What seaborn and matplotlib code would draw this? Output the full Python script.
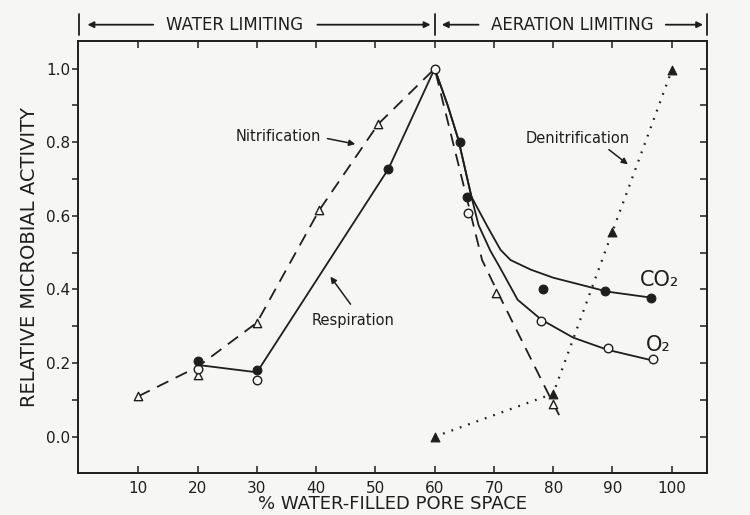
import numpy as np
import matplotlib
matplotlib.use("Agg")
import matplotlib.pyplot as plt
import seaborn as sns

# values
# nitrification (open triangles, dashed)
nitr_x = [10, 20, 30, 40.5, 50.5, 70.4, 80]
nitr_y = [0.11, 0.168, 0.31, 0.615, 0.85, 0.39, 0.09]
nitr_line_x = [10, 20, 30, 40.5, 50.5, 60, 64, 68, 70.4, 80, 81.6]
nitr_line_y = [0.11, 0.19, 0.31, 0.615, 0.85, 1.0, 0.74, 0.48, 0.40, 0.09, 0.04]

# respiration (solid line, water limiting side)
resp_line_x = [20, 30, 52.2, 60]
resp_line_y = [0.195, 0.175, 0.728, 1.0]

# filled circles (CO2) and open circles (O2)
co2_x = [20, 30, 52.2, 64.2, 65.4, 78.2, 88.7, 96.5]
co2_y = [0.207, 0.18, 0.728, 0.80, 0.652, 0.40, 0.395, 0.377]
o2_x = [20, 30, 60, 65.6, 78, 89.2, 96.8]
o2_y = [0.185, 0.155, 1.0, 0.608, 0.315, 0.24, 0.21]

# hand drawn curves on the aeration limiting side
co2_curve_x = [60, 62.2, 64, 66.2, 68.9, 71.1, 72.8, 76.2, 80, 83.4, 89.2, 96.5]
co2_curve_y = [1.0, 0.9, 0.807, 0.652, 0.571, 0.508, 0.48, 0.454, 0.432, 0.418, 0.394, 0.378]
o2_curve_x = [60, 62.2, 64, 66.2, 67.4, 69.4, 71, 74, 78, 83.4, 89.2, 96.8]
o2_curve_y = [1.0, 0.9, 0.807, 0.652, 0.575, 0.505, 0.46, 0.372, 0.318, 0.269, 0.236, 0.207]

# denitrification (filled triangles, dotted)
denit_x = [60, 80, 90, 100]
denit_y = [0.0, 0.117, 0.557, 0.995]

x_ticks = [10, 20, 30, 40, 50, 60, 70, 80, 90, 100]
y_ticks = [0.0, 0.2, 0.4, 0.6, 0.8, 1.0]

ink = "#1e1e1e"
paper = "#f6f6f4"

sns.set_theme(style="white")
plt.rcParams["font.family"] = ["DejaVu Sans"]

fig = plt.figure(figsize=(7.5, 5.15), dpi=100, facecolor=paper)
ax = fig.add_axes([0.104, 0.082, 0.839, 0.839])
ax.set_facecolor(paper)

lw = 1.3
# lines
sns.lineplot(x=nitr_line_x, y=nitr_line_y, ax=ax, color=ink, lw=lw, sort=False,
             estimator=None, linestyle=(0, (7, 4.5)))
sns.lineplot(x=resp_line_x, y=resp_line_y, ax=ax, color=ink, lw=lw, sort=False, estimator=None)
sns.lineplot(x=co2_curve_x, y=co2_curve_y, ax=ax, color=ink, lw=lw, sort=False, estimator=None)
sns.lineplot(x=o2_curve_x, y=o2_curve_y, ax=ax, color=ink, lw=lw, sort=False, estimator=None)
sns.lineplot(x=denit_x, y=denit_y, ax=ax, color=ink, lw=1.6, sort=False, estimator=None,
             linestyle=(0, (0.8, 3.2)))

# markers
sns.scatterplot(x=nitr_x, y=nitr_y, ax=ax, marker="^", s=36, facecolor=paper,
                edgecolor=ink, linewidth=1.0, zorder=5)
sns.scatterplot(x=o2_x, y=o2_y, ax=ax, marker="o", s=38, facecolor=paper,
                edgecolor=ink, linewidth=1.0, zorder=5)
sns.scatterplot(x=co2_x, y=co2_y, ax=ax, marker="o", s=40, color=ink,
                edgecolor=ink, linewidth=0.8, zorder=6)
sns.scatterplot(x=denit_x, y=denit_y, ax=ax, marker="^", s=40, color=ink,
                edgecolor=ink, linewidth=0.8, zorder=6)

ax.set_xlim(-0.2, 106)
ax.set_ylim(-0.098, 1.076)

# axes and ticks
for sp in ax.spines.values():
    sp.set_visible(True)
    sp.set_color(ink)
    sp.set_linewidth(1.4)

ax.set_xticks(x_ticks)
ax.set_xticklabels([str(t) for t in x_ticks])
ax.tick_params(axis="x", direction="in", top=True, bottom=True, length=5, width=1.1,
               colors=ink, labelsize=11, pad=6)
ax.set_yticks(y_ticks)
ax.set_yticklabels([f"{t:.1f}" for t in y_ticks])
ax.set_yticks([0.1, 0.3, 0.5, 0.7, 0.9], minor=True)
ax.tick_params(axis="y", which="both", direction="out", left=True, right=False,
               length=4, width=1.1, colors=ink, labelsize=11, pad=1.5)

ax_r = ax.twinx()
ax_r.set_ylim(ax.get_ylim())
ax_r.set_yticks(np.arange(0, 1.01, 0.1))
ax_r.tick_params(axis="y", direction="in", length=5, width=1.1, colors=ink,
                 labelright=False)
for sp in ax_r.spines.values():
    sp.set_visible(False)

ax.set_xlabel("% WATER-FILLED PORE SPACE", fontsize=13, color=ink, labelpad=0)
ax.xaxis.set_label_coords(0.5, -0.052)
ax.set_ylabel("RELATIVE MICROBIAL ACTIVITY", fontsize=14, color=ink)
ax.yaxis.set_label_coords(-0.062, 0.5)

# text labels inside the plot
arrow = dict(arrowstyle="-|>", color=ink, lw=1.1, mutation_scale=9, shrinkA=0, shrinkB=0)
ax.text(33.6, 0.815, "Nitrification", fontsize=10.5, color=ink, ha="center", va="center")
ax.annotate("", xy=(46.6, 0.795), xytext=(41.9, 0.81), arrowprops=arrow)
ax.text(46.3, 0.315, "Respiration", fontsize=10.5, color=ink, ha="center", va="center")
ax.annotate("", xy=(42.4, 0.435), xytext=(45.8, 0.36), arrowprops=arrow)
ax.text(84.1, 0.81, "Denitrification", fontsize=10.5, color=ink, ha="center", va="center")
ax.annotate("", xy=(92.6, 0.74), xytext=(89.4, 0.78), arrowprops=arrow)
ax.text(94.6, 0.425, "CO₂", fontsize=15, color=ink, ha="left", va="center")
ax.text(95.6, 0.25, "O₂", fontsize=15, color=ink, ha="left", va="center")

# header above the plot
hy = 1.037
trans = ax.get_xaxis_transform()
for xb in [0, 60, 106]:
    ax.plot([xb, xb], [1.013, 1.062], transform=trans, color=ink, lw=1.3, clip_on=False)
head = dict(arrowstyle="-|>", color=ink, lw=1.3, mutation_scale=9, shrinkA=0, shrinkB=0)
ax.annotate("", xy=(1.4, hy), xytext=(12.5, hy), xycoords=trans, textcoords=trans, arrowprops=head)
ax.annotate("", xy=(59.3, hy), xytext=(40.2, hy), xycoords=trans, textcoords=trans, arrowprops=head)
ax.annotate("", xy=(61.2, hy), xytext=(67.4, hy), xycoords=trans, textcoords=trans, arrowprops=head)
ax.annotate("", xy=(105.3, hy), xytext=(99.0, hy), xycoords=trans, textcoords=trans, arrowprops=head)
ax.text(26.2, hy, "WATER LIMITING", transform=trans, fontsize=12, color=ink,
        ha="center", va="center")
ax.text(83.3, hy, "AERATION LIMITING", transform=trans, fontsize=12, color=ink,
        ha="center", va="center")

fig.savefig("out.png", dpi=100, facecolor=paper)
